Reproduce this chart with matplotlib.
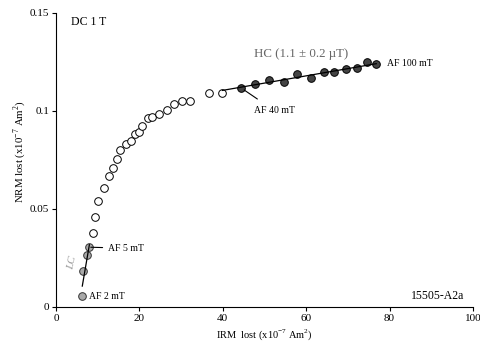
import numpy as np
import matplotlib
matplotlib.use("Agg")
from matplotlib import pyplot as plt

# IRM lost vs NRM lost (x10^-7 Am^2)
lc_irm = [6.3, 6.5, 7.5, 8.0]
lc_nrm = [0.0056, 0.0186, 0.0264, 0.0305]

mid_irm = [8.8, 9.4, 10.1, 11.6, 12.8, 13.6, 14.7, 15.4, 16.8, 17.9, 19.0,
           20.0, 20.6, 22.0, 23.0, 24.6, 26.5, 28.3, 30.3, 32.1, 36.6, 39.9]
mid_nrm = [0.0377, 0.0459, 0.0539, 0.0607, 0.0670, 0.0709, 0.0757, 0.0803,
           0.0834, 0.0848, 0.0883, 0.0894, 0.0921, 0.0962, 0.0968, 0.0986,
           0.1003, 0.1037, 0.1049, 0.1049, 0.1093, 0.1093]

hc_irm = [44.3, 47.7, 51.1, 54.6, 57.9, 61.1, 64.2, 66.6, 69.5, 72.3, 74.7, 76.8]
hc_nrm = [0.1119, 0.1136, 0.1156, 0.1149, 0.1187, 0.1166, 0.1198, 0.1198,
          0.1212, 0.1217, 0.1252, 0.1238]

xticks = [0, 20, 40, 60, 80, 100]
yticks = [0, 0.05, 0.1, 0.15]
yticklabels = ["0", "0.05", "0.1", "0.15"]

plt.rcParams['font.family'] = ['Liberation Serif', 'DejaVu Serif']
plt.rcParams['mathtext.fontset'] = 'custom'
plt.rcParams['mathtext.rm'] = 'Liberation Serif'

fig = plt.figure(figsize=(4.8, 3.5), dpi=100)
ax = fig.add_axes([0.1167, 0.1229, 0.8687, 0.84])

ms = 5.5
ax.plot(mid_irm, mid_nrm, 'o', ms=ms, mfc='white', mec='black', mew=0.7, zorder=3)
ax.plot(lc_irm, lc_nrm, 'o', ms=ms, mfc='#a9a9a9', mec='#333333', mew=0.7, zorder=3)
ax.plot(hc_irm, hc_nrm, 'o', ms=ms, mfc='#444444', mec='black', mew=0.7, zorder=3)

# fitted lines
b, a = np.polyfit(lc_irm, lc_nrm, 1)
xl = np.array([lc_irm[0], lc_irm[-1]])
ax.plot(xl, a + b * xl, color='black', lw=0.9, zorder=4)

b, a = np.polyfit(hc_irm, hc_nrm, 1)
xh = np.array([mid_irm[-1], hc_irm[-1]])
ax.plot(xh, a + b * xh, color='black', lw=0.9, zorder=4)

ax.set_xlim(0, 100)
ax.set_ylim(0, 0.15)
ax.set_xticks(xticks)
ax.set_yticks(yticks)
ax.set_yticklabels(yticklabels)
ax.spines['top'].set_visible(False)
ax.spines['right'].set_visible(False)
ax.tick_params(labelsize=8, length=3, width=0.8, direction='out', pad=2)
ax.set_xlabel("IRM  lost (x10$^{\\mathrm{-7}}$ Am$^{\\mathrm{2}}$)", fontsize=7.5,
              labelpad=3)
ax.set_ylabel("NRM lost (x10$^{\\mathrm{-7}}$ Am$^{\\mathrm{2}}$)", fontsize=7.8)
ax.yaxis.set_label_coords(-0.066, 0.527)

fs = 7
ax.annotate("AF 2 mT", xy=(lc_irm[0], lc_nrm[0]), xytext=(7.8, lc_nrm[0]),
            fontsize=fs, va='center')
ax.annotate("AF 5 mT", xy=(lc_irm[-1], lc_nrm[-1]), xytext=(12.5, 0.0300),
            fontsize=fs, va='center',
            arrowprops=dict(arrowstyle='-', lw=0.8, shrinkA=2, shrinkB=1))
ax.annotate("AF 40 mT", xy=(hc_irm[0], hc_nrm[0]), xytext=(47.6, 0.1000),
            fontsize=fs, va='center',
            arrowprops=dict(arrowstyle='-', lw=0.8, shrinkA=6, shrinkB=3))
ax.text(79.4, 0.1243, "AF 100 mT", fontsize=fs, va='center')

ax.text(47.5, 0.1290, "HC (1.1 \u00b1 0.2 \u00b5T)", fontsize=9.3, color='#666666',
        va='center')
ax.text(3.8, 0.0225, "LC", fontsize=8, color='#999999', style='italic',
        rotation=78, ha='center', va='center')
ax.text(3.5, 0.1455, "DC 1 T", fontsize=8.5, va='center')
ax.text(98, 0.0055, "15505-A2a", fontsize=8.5, ha='right', va='center')

fig.savefig("out.png", dpi=100)
